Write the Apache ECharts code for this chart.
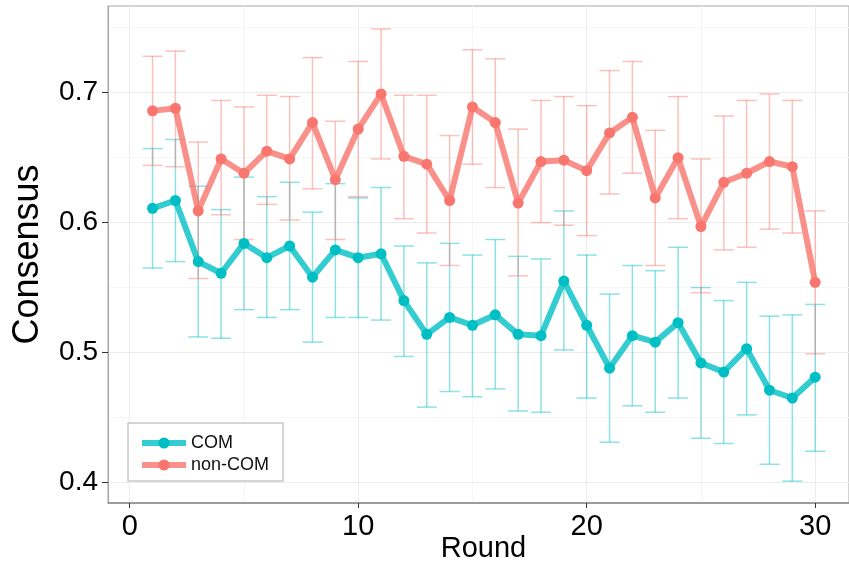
<!DOCTYPE html>
<html>
<head>
<meta charset="utf-8">
<script src="https://cdn.jsdelivr.net/npm/echarts@6/dist/echarts.min.js"></script>
<style>
  html, body { margin: 0; padding: 0; background: #fff; }
  #chart { width: 849px; height: 562px; }
</style>
</head>
<body>
<div id="chart"></div>
<script>
  // 数据
  var rounds = [1,2,3,4,5,6,7,8,9,10,11,12,13,14,15,16,17,18,19,20,21,22,23,24,25,26,27,28,29,30];

  var comMean = [0.611,0.617,0.570,0.561,0.584,0.573,0.582,0.558,0.579,0.573,0.576,0.540,0.514,0.527,0.521,0.529,0.514,0.513,0.555,0.521,0.488,0.513,0.508,0.523,0.492,0.485,0.503,0.471,0.465,0.481];
  var comLow  = [0.565,0.570,0.512,0.511,0.533,0.527,0.533,0.508,0.527,0.527,0.525,0.497,0.458,0.470,0.466,0.472,0.455,0.454,0.502,0.465,0.431,0.459,0.454,0.465,0.434,0.430,0.452,0.414,0.401,0.424];
  var comHigh = [0.657,0.664,0.628,0.610,0.635,0.620,0.631,0.608,0.630,0.619,0.627,0.582,0.569,0.584,0.575,0.587,0.574,0.572,0.609,0.575,0.545,0.567,0.563,0.581,0.550,0.540,0.554,0.528,0.529,0.537];

  var nonMean = [0.686,0.688,0.609,0.649,0.638,0.655,0.649,0.677,0.633,0.672,0.699,0.651,0.645,0.617,0.689,0.677,0.615,0.647,0.648,0.640,0.669,0.681,0.619,0.650,0.597,0.631,0.638,0.647,0.643,0.554];
  var nonLow  = [0.644,0.643,0.557,0.606,0.587,0.614,0.602,0.626,0.587,0.620,0.649,0.603,0.592,0.567,0.645,0.627,0.559,0.600,0.598,0.590,0.622,0.638,0.567,0.603,0.546,0.579,0.581,0.595,0.592,0.499];
  var nonHigh = [0.728,0.732,0.662,0.694,0.689,0.698,0.697,0.727,0.678,0.724,0.749,0.698,0.698,0.667,0.733,0.726,0.672,0.694,0.697,0.690,0.717,0.724,0.671,0.697,0.649,0.682,0.694,0.699,0.694,0.609];

  var xTicks = [0, 10, 20, 30];
  var xMinor = [5, 15, 25];
  var yTicks = [0.4, 0.5, 0.6, 0.7];
  var yMinor = [0.45, 0.55, 0.65, 0.75];

  var TEAL = '#00BFC4';
  var RED = '#F8766D';
  var FONT = 'Liberation Sans';

  function pairs(xs, ys) {
    return xs.map(function (x, i) { return [x, ys[i]]; });
  }
  function triples(xs, lo, hi) {
    return xs.map(function (x, i) { return [x, lo[i], hi[i]]; });
  }

  function errorBar(color) {
    return function (params, api) {
      var x = api.value(0);
      var lo = api.coord([x, api.value(1)]);
      var hi = api.coord([x, api.value(2)]);
      var half = api.size([0.875, 0])[0] / 2;
      var style = { stroke: color, lineWidth: 1.5, opacity: 0.45 };
      return {
        type: 'group',
        children: [
          { type: 'line', shape: { x1: lo[0], y1: lo[1], x2: hi[0], y2: hi[1] }, style: style },
          { type: 'line', shape: { x1: lo[0] - half, y1: lo[1], x2: lo[0] + half, y2: lo[1] }, style: style },
          { type: 'line', shape: { x1: hi[0] - half, y1: hi[1], x2: hi[0] + half, y2: hi[1] }, style: style }
        ]
      };
    };
  }

  var major = { color: '#ececec', width: 1, type: 'solid' };
  var minor = { color: '#f5f5f5', width: 1, type: 'solid' };
  var gridLines = []
    .concat(xTicks.map(function (v) { return { xAxis: v, lineStyle: major }; }))
    .concat(xMinor.map(function (v) { return { xAxis: v, lineStyle: minor }; }))
    .concat(yTicks.map(function (v) { return { yAxis: v, lineStyle: major }; }))
    .concat(yMinor.map(function (v) { return { yAxis: v, lineStyle: minor }; }));

  var myChart = echarts.init(document.getElementById('chart'));
  myChart.setOption({
    animation: false,
    backgroundColor: '#fff',
    textStyle: { fontFamily: FONT },
    grid: {
      left: 108, top: 6, right: 0, bottom: 59,
      outerBoundsMode: 'none',
      containLabel: false,
      show: true, borderColor: '#a6a6a6', borderWidth: 1, backgroundColor: '#fff'
    },
    legend: {
      orient: 'vertical',
      left: 128, top: 423,
      padding: [11, 14, 7, 11],
      itemGap: 4,
      itemWidth: 44, itemHeight: 14,
      borderColor: '#c8c8c8', borderWidth: 1.5, borderRadius: 0,
      backgroundColor: '#fff',
      lineStyle: { width: 6, opacity: 0.8 },
      textStyle: { fontFamily: FONT, fontSize: 18, color: '#111' },
      data: ['COM', 'non-COM']
    },
    xAxis: {
      type: 'value',
      min: -0.95, max: 31.48,
      name: 'Round',
      nameLocation: 'middle',
      nameGap: 31,
      nameMoveOverlap: false,
      nameTextStyle: { fontFamily: FONT, fontSize: 29, color: '#000', padding: [0, 0, 0, 10] },
      axisLine: { show: true, onZero: false, lineStyle: { color: '#8a8a8a', width: 1.5 } },
      axisTick: { show: true, length: 5, customValues: xTicks, lineStyle: { color: '#333', width: 1 } },
      axisLabel: { customValues: xTicks, margin: 9, fontFamily: FONT, fontSize: 29, color: '#000' },
      splitLine: { show: false }
    },
    yAxis: {
      type: 'value',
      min: 0.3842, max: 0.7667,
      name: 'Consensus',
      nameLocation: 'middle',
      nameGap: 62,
      nameMoveOverlap: false,
      nameTextStyle: { fontFamily: FONT, fontSize: 36, color: '#000' },
      axisLine: { show: true, onZero: false, lineStyle: { color: '#a6a6a6', width: 1 } },
      axisTick: { show: true, length: 6, customValues: yTicks, lineStyle: { color: '#333', width: 1 } },
      axisLabel: {
        customValues: yTicks, margin: 10, fontFamily: FONT, fontSize: 28, color: '#000',
        formatter: function (v) { return v.toFixed(1); }
      },
      splitLine: { show: false }
    },
    series: [
      {
        name: 'grid',
        type: 'line',
        data: [],
        z: 0,
        silent: true,
        markLine: {
          silent: true,
          z: 0,
          symbol: ['none', 'none'],
          label: { show: false },
          data: gridLines
        }
      },
      {
        name: 'COM err',
        type: 'custom',
        z: 1,
        silent: true,
        renderItem: errorBar(TEAL),
        encode: { x: 0, y: [1, 2] },
        data: triples(rounds, comLow, comHigh)
      },
      {
        name: 'non-COM err',
        type: 'custom',
        z: 1,
        silent: true,
        renderItem: errorBar(RED),
        encode: { x: 0, y: [1, 2] },
        data: triples(rounds, nonLow, nonHigh)
      },
      {
        name: 'COM',
        type: 'line',
        z: 3,
        data: pairs(rounds, comMean),
        symbol: 'circle',
        symbolSize: 11,
        itemStyle: { color: TEAL },
        lineStyle: { color: TEAL, width: 6, opacity: 0.8 }
      },
      {
        name: 'non-COM',
        type: 'line',
        z: 3,
        data: pairs(rounds, nonMean),
        symbol: 'circle',
        symbolSize: 11,
        itemStyle: { color: RED },
        lineStyle: { color: RED, width: 6, opacity: 0.8 }
      }
    ]
  });
</script>
</body>
</html>
